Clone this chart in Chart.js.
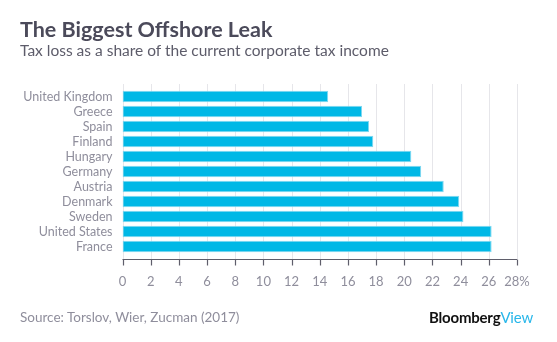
<!DOCTYPE html>
<html>
<head>
<meta charset="utf-8">
<script src="https://cdn.jsdelivr.net/npm/chart.js@4/dist/chart.umd.min.js"></script>
<style>
  html, body { margin: 0; padding: 0; background: #fff; }
  #wrap { position: relative; width: 557px; height: 342px; overflow: hidden; font-family: Lato, "Open Sans", sans-serif; }
  #chart { position: absolute; left: 0; top: 0; }
  .title { position: absolute; left: 20px; top: 16px; font-size: 21.5px; font-weight: 700; color: #4b4a5a; white-space: nowrap; }
  .subtitle { position: absolute; left: 20px; top: 41px; font-size: 15.5px; color: #5d5c6a; white-space: nowrap; }
  .source { position: absolute; left: 20px; top: 309px; font-size: 13.5px; color: #8f8e9c; white-space: nowrap; }
  .logo { position: absolute; right: 24px; top: 308px; font-size: 15px; font-weight: 700; color: #111; white-space: nowrap; letter-spacing: -0.2px; }
  .logo span { color: #29b7ea; font-weight: 400; }
</style>
</head>
<body>
<div id="wrap">
  <canvas id="chart" width="557" height="342"></canvas>
  <div class="title">The Biggest Offshore Leak</div>
  <div class="subtitle">Tax loss as a share of the current corporate tax income</div>
  <div class="source">Source: Torslov, Wier, Zucman (2017)</div>
  <div class="logo">Bloomberg<span>View</span></div>
</div>
<script>
// Countries, top to bottom
const countries = ["United Kingdom", "Greece", "Spain", "Finland", "Hungary", "Germany",
                   "Austria", "Denmark", "Sweden", "United States", "France"];
// Tax loss, % of current corporate tax income
const taxLoss = [14.6, 17.0, 17.5, 17.8, 20.5, 21.2, 22.8, 23.9, 24.2, 26.2, 26.2];
// Horizontal axis ticks
const xTicks = [0, 2, 4, 6, 8, 10, 12, 14, 16, 18, 20, 22, 24, 26, 28];

// Gridlines, axis line and tick marks that run a little past the bar band
const frame = {
  id: "frame",
  beforeDatasetsDraw(chart) {
    const { ctx, chartArea, scales } = chart;
    ctx.save();
    ctx.strokeStyle = "#e6e6ea";
    ctx.lineWidth = 1;
    xTicks.forEach(v => {
      const x = Math.round(scales.x.getPixelForValue(v)) + 0.5;
      ctx.beginPath();
      ctx.moveTo(x, chartArea.top - 5);
      ctx.lineTo(x, chartArea.bottom + 5);
      ctx.stroke();
    });
    ctx.restore();
  },
  afterDatasetsDraw(chart) {
    const { ctx, chartArea, scales } = chart;
    const y = Math.round(chartArea.bottom + 5) + 0.5;
    ctx.save();
    ctx.strokeStyle = "#5f5e6b";
    ctx.lineWidth = 1.2;
    ctx.beginPath();
    ctx.moveTo(scales.x.getPixelForValue(0), y);
    ctx.lineTo(scales.x.getPixelForValue(28), y);
    ctx.stroke();
    xTicks.forEach(v => {
      const x = Math.round(scales.x.getPixelForValue(v)) + 0.5;
      ctx.beginPath();
      ctx.moveTo(x, y);
      ctx.lineTo(x, y + 6);
      ctx.stroke();
    });
    ctx.restore();
  }
};

new Chart(document.getElementById("chart"), {
  type: "bar",
  data: {
    labels: countries,
    datasets: [{
      data: taxLoss,
      backgroundColor: "#00b8e6",
      borderColor: "#7fd7f0",
      borderWidth: 1,
      borderSkipped: false,
      categoryPercentage: 1.0,
      barPercentage: 0.78
    }]
  },
  options: {
    indexAxis: "y",
    responsive: false,
    animation: false,
    layout: { padding: { top: 89, right: 40, bottom: 48, left: 0 } },
    plugins: { legend: { display: false }, tooltip: { enabled: false } },
    scales: {
      x: {
        min: 0, max: 28,
        afterBuildTicks(scale) { scale.ticks = xTicks.map(v => ({ value: v })); },
        afterFit(scale) { scale.height = 40; },
        grid: { display: false, drawTicks: false },
        border: { display: false },
        ticks: {
          padding: 20,
          color: "#8f8e9c",
          font: { family: "Lato", size: 13 },
          maxRotation: 0,
          autoSkip: false,
          callback: v => v === 28 ? "28%" : String(v)
        }
      },
      y: {
        afterFit(scale) { scale.width = 122.5; },
        grid: { display: false, drawTicks: false },
        border: { display: false },
        ticks: {
          padding: 10,
          autoSkip: false,
          color: "#8f8e9c",
          font: { family: "Lato", size: 12.5 }
        }
      }
    }
  },
  plugins: [frame]
});
</script>
</body>
</html>
